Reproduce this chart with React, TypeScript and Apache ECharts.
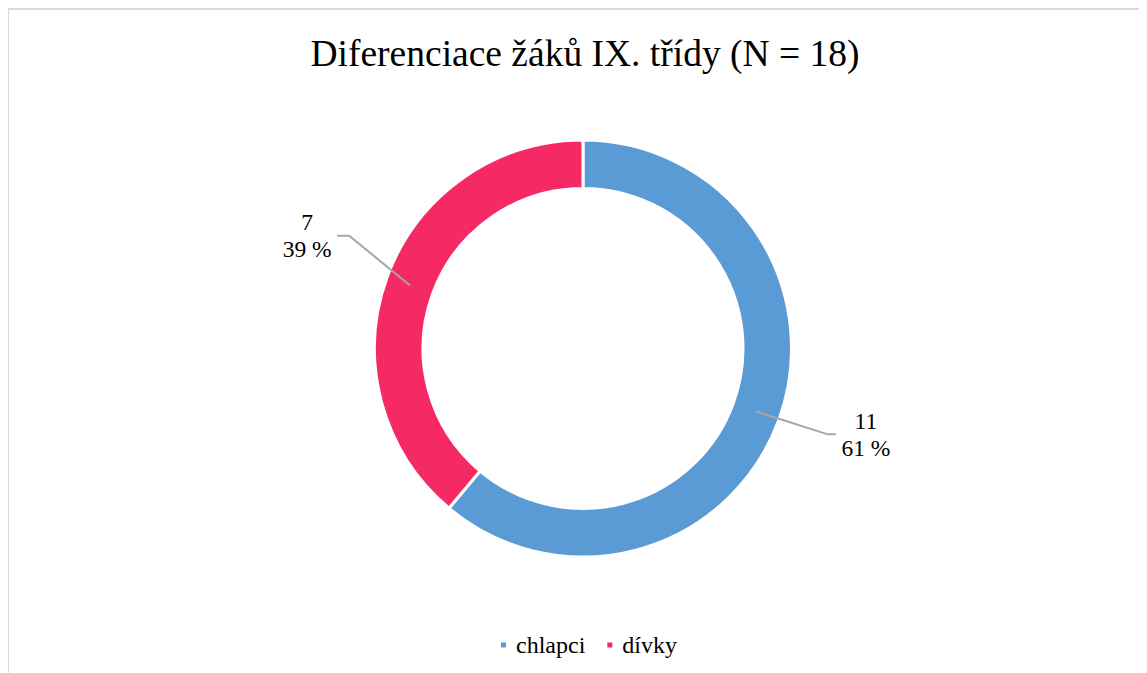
import React, { useEffect, useRef } from "react";
import * as echarts from "echarts";

const titleText = "Diferenciace žáků IX. třídy (N = 18)";
const categories = ["chlapci", "dívky"];
const values = [11, 7];
const colors = ["#5B9BD5", "#F52A65"];

const FONT = "'Liberation Serif', 'Times New Roman', serif";

export default function App() {
  const ref = useRef<HTMLDivElement>(null);
  useEffect(() => {
    if (!ref.current) return;
    const chart = echarts.init(ref.current, null, { renderer: "svg" });
    const data = categories.map((name, i) => ({
      name,
      value: values[i],
      itemStyle: { color: colors[i] },
    }));
    chart.setOption({
      animation: false,
      backgroundColor: "#fff",
      title: {
        text: titleText,
        left: 571,
        top: 19,
        textAlign: "center",
        textStyle: {
          fontFamily: FONT,
          fontSize: 37.5,
          fontWeight: "normal",
          color: "#000",
        },
      },
      legend: {
        data: categories,
        left: 485,
        top: 618,
        icon: "rect",
        itemWidth: 7,
        itemHeight: 7,
        itemGap: 20,
        textStyle: {
          fontFamily: FONT,
          fontSize: 24,
          color: "#000",
          padding: [0, 0, 0, 4],
        },
      },
      series: [
        {
          type: "pie",
          name: "ring",
          z: 1,
          center: [574, 338.5],
          radius: [160, 208.5],
          startAngle: 90,
          clockwise: true,
          avoidLabelOverlap: false,
          silent: true,
          label: { show: false },
          labelLine: { show: false },
          itemStyle: { borderColor: "#fff", borderWidth: 3 },
          data,
        },
        {
          type: "pie",
          name: "labels",
          z: 5,
          center: [574, 338.5],
          radius: [0, 184],
          startAngle: 90,
          clockwise: true,
          avoidLabelOverlap: false,
          silent: true,
          itemStyle: { color: "rgba(0,0,0,0)" },
          label: {
            show: true,
            position: "outside",
            distanceToLabelLine: 5,
            fontFamily: FONT,
            color: "#000",
            formatter: (p: any) =>
              `{a|${p.value}}\n{a|${Math.round(p.percent)} %}`,
            rich: {
              a: {
                width: 50,
                align: "center",
                fontFamily: FONT,
                fontSize: 23.5,
                lineHeight: 27,
                color: "#000",
              },
            },
          },
          labelLine: {
            show: true,
            length: 67,
            length2: 17,
            lineStyle: { color: "#a6a6a6", width: 2 },
          },
          labelLayout: (p: any) => {
            const pts = p.labelLinePoints;
            if (!pts) return {};
            if (p.dataIndex === 0) {
              return {
                labelLinePoints: [
                  [pts[0][0], pts[0][1]],
                  [pts[2][0] - 8, pts[2][1]],
                  [pts[2][0], pts[2][1]],
                ],
              };
            }
            const dx = 7;
            const dy = -27;
            const ex = pts[2][0] + dx;
            const ey = pts[2][1] + dy;
            return {
              dx,
              dy,
              labelLinePoints: [
                [pts[0][0], pts[0][1]],
                [ex + 12, ey],
                [ex, ey],
              ],
            };
          },
          data: categories.map((name, i) => ({ name, value: values[i] })),
        },
      ],
    });
    return () => chart.dispose();
  }, []);
  return (
    <div
      style={{
        width: 1139,
        height: 665,
        marginLeft: -1,
        boxSizing: "border-box",
        borderTop: "2px solid #d9d9d9",
        borderLeft: "2px solid #d9d9d9",
        overflow: "hidden",
      }}
    >
      <div ref={ref} style={{ width: 1137, height: 663 }} />
    </div>
  );
}
